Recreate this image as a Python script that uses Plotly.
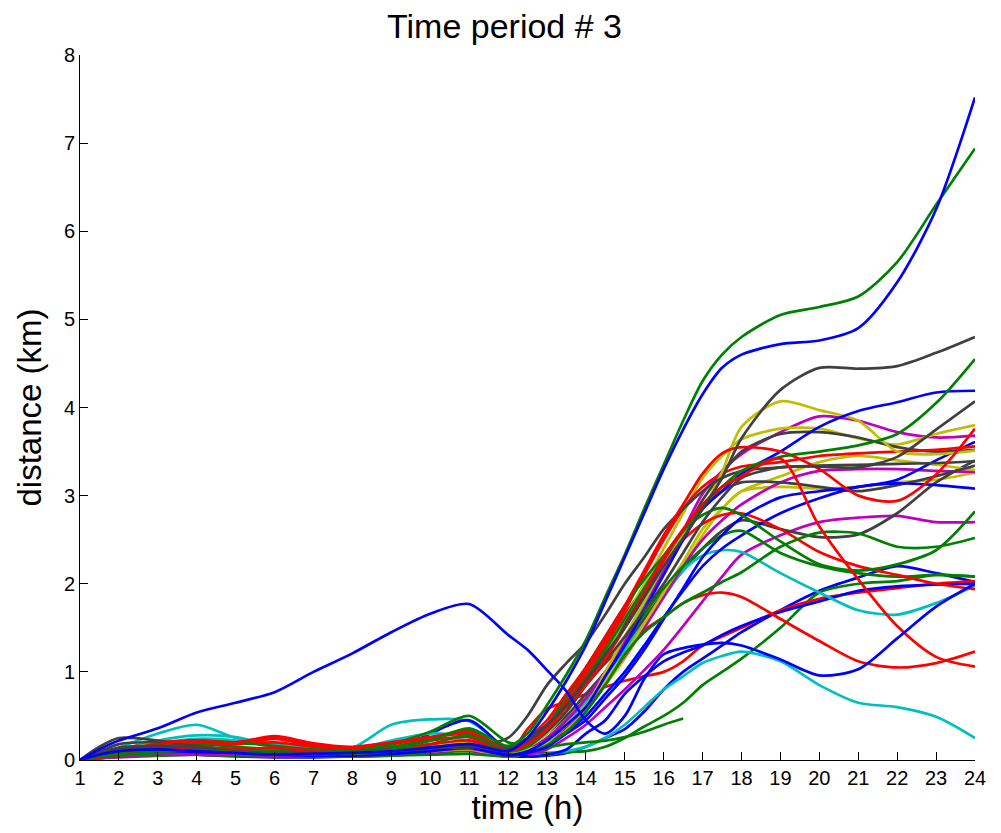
import plotly.graph_objects as go

# time grid (hours)
hours = [1, 1.5, 2, 3, 4, 5, 6, 7, 8, 9, 10, 11, 12, 12.5, 13, 13.5, 14, 14.5, 15, 15.5,
         16, 16.5, 17, 17.5, 18, 19, 20, 21, 22, 23, 24]

x_ticks = list(range(1, 25))
y_ticks = list(range(0, 9))

# distance series (km), one list per track
blue_top = [0, .06, .10, .12, .10, .08, .06, .07, .08, .10, .14, .18, .10, .25, .55, .90, 1.30, 1.80, 2.30, 2.80, 3.30, 3.75, 4.15, 4.45, 4.60, 4.72, 4.76, 4.90, 5.42, 6.25, 7.52]
green_top = [0, .04, .06, .09, .11, .09, .07, .06, .08, .12, .22, .36, .16, .30, .62, .97, 1.36, 1.85, 2.33, 2.85, 3.35, 3.85, 4.30, 4.60, 4.80, 5.05, 5.14, 5.26, 5.65, 6.30, 6.94]
blue_early = [0, .12, .22, .36, .54, .65, .77, 1.00, 1.21, 1.45, 1.66, 1.77, 1.42, 1.25, 1.02, .78, .45, .30, .50, .92, 1.20, 1.27, 1.31, 1.33, 1.30, 1.14, .96, 1.03, 1.38, 1.74, 2.00]
cyan_low = [0, .06, .14, .30, .40, .25, .18, .14, .14, .40, .46, .44, .12, .05, .06, .10, .15, .25, .40, .60, .80, .95, 1.10, 1.18, 1.23, 1.12, .85, .65, .60, .49, .25]
cyan_dip = [0, .04, .10, .22, .28, .26, .16, .12, .12, .22, .30, .26, .08, .10, .20, .40, .65, .95, 1.25, 1.55, 1.85, 2.15, 2.32, 2.38, 2.36, 2.12, 1.90, 1.70, 1.65, 1.78, 1.98]
cyan_mid = [0, .04, .08, .18, .24, .22, .15, .10, .10, .18, .25, .22, .08, .12, .25, .45, .70, 1.00, 1.35, 1.75, 2.15, 2.55, 2.85, 3.10, 3.22, None, None, None, None, None, None]
red_peak = [0, .05, .12, .20, .22, .20, .26, .18, .14, .20, .26, .30, .12, .15, .35, .60, .85, 1.10, 1.30, 1.48, 1.62, 1.78, 1.87, 1.90, 1.85, 1.60, 1.35, 1.12, 1.05, 1.10, 1.23]
red_steep = [0, .03, .06, .10, .14, .12, .14, .10, .08, .12, .18, .22, .10, .18, .35, .60, .85, 1.15, 1.50, 1.90, 2.30, 2.62, 2.90, 3.10, 3.22, 3.42, 2.65, 2.05, 1.52, 1.17, 1.06]
red_fall = [0, .05, .10, .16, .20, .18, .20, .15, .11, .15, .22, .26, .09, .15, .35, .65, .95, 1.30, 1.65, 1.95, 2.25, 2.50, 2.68, 2.78, 2.80, 2.62, 2.36, 2.20, 2.10, 2.00, 1.94]
red_slow = [0, .02, .04, .07, .09, .08, .10, .07, .06, .09, .14, .18, .07, .35, .58, .66, .75, .83, .90, .95, 1.00, 1.12, 1.30, 1.40, 1.50, 1.70, 1.83, 1.90, 1.95, 2.00, 2.03]
red_dip = [0, .05, .10, .18, .22, .20, .27, .19, .15, .20, .26, .32, .12, .25, .45, .75, 1.05, 1.40, 1.75, 2.15, 2.55, 2.90, 3.25, 3.48, 3.55, 3.50, 3.30, 3.00, 2.94, 3.24, 3.76]
red_flat = [0, .04, .09, .16, .20, .18, .24, .16, .12, .18, .25, .30, .10, .18, .40, .70, 1.00, 1.35, 1.70, 2.10, 2.50, 2.85, 3.10, 3.25, 3.33, 3.38, 3.45, 3.48, 3.50, 3.52, 3.56]
green_a = [0, .02, .04, .06, .06, .05, .05, .04, .04, .05, .08, .10, .04, .06, .08, .09, .10, .15, .25, .38, .50, .65, .85, 1.00, 1.15, 1.50, 1.90, 2.00, 2.03, 2.10, 2.08]
green_b = [0, .04, .08, .14, .18, .15, .12, .10, .09, .14, .24, .34, .10, .12, .18, .32, .55, .85, 1.20, 1.45, 1.62, 1.78, 1.90, 2.02, 2.13, 2.42, 2.58, 2.57, 2.42, 2.42, 2.52]
green_c = [0, .05, .10, .18, .22, .20, .16, .12, .10, .18, .32, .50, .20, .18, .38, .72, 1.05, 1.40, 1.75, 2.05, 2.32, 2.60, 2.78, 2.86, 2.78, 2.48, 2.22, 2.15, 2.22, 2.38, 2.82]
green_short = [0, .02, .04, .05, .06, .05, .04, .04, .04, .05, .06, .07, .04, .08, .14, .18, .20, .22, .26, .32, .40, .47, None, None, None, None, None, None, None, None, None]
green_hi = [0, .03, .07, .12, .14, .12, .10, .08, .07, .10, .18, .28, .10, .15, .35, .62, .92, 1.25, 1.60, 1.95, 2.30, 2.60, 2.88, 3.10, 3.28, 3.44, 3.50, 3.57, 3.70, 4.05, 4.55]
green_e = [0, .03, .05, .08, .10, .09, .07, .06, .06, .08, .14, .22, .06, .10, .25, .45, .70, 1.00, 1.32, 1.65, 1.95, 2.20, 2.40, 2.55, 2.60, 2.35, 2.20, 2.12, 2.08, 2.10, 2.08]
blue_low = [0, .03, .06, .08, .06, .04, .03, .03, .04, .06, .10, .12, .04, .04, .05, .08, .15, .25, .35, .55, .80, 1.00, 1.15, 1.30, 1.45, 1.70, 1.92, 2.07, 2.20, 2.12, 2.02]
blue_low2 = [0, .05, .10, .12, .10, .08, .06, .05, .06, .08, .30, .45, .10, .04, .06, .12, .30, .45, .75, .95, 1.12, 1.22, 1.30, 1.42, 1.52, 1.68, 1.80, 1.92, 1.97, 1.99, 2.00]
blue_hi = [0, .04, .08, .12, .12, .10, .08, .06, .06, .08, .12, .16, .06, .10, .22, .40, .60, .95, 1.30, 1.70, 2.10, 2.50, 2.85, 3.05, 3.25, 3.50, 3.78, 3.96, 4.06, 4.17, 4.19]
blue_mid = [0, .04, .07, .10, .09, .08, .06, .05, .05, .07, .10, .14, .05, .08, .15, .30, .45, .70, .95, 1.25, 1.60, 1.95, 2.30, 2.55, 2.75, 2.98, 3.05, 3.10, 3.18, 3.40, 3.61]
blue_flat = [0, .05, .09, .14, .14, .12, .09, .07, .07, .09, .13, .17, .06, .08, .18, .32, .50, .75, 1.00, 1.30, 1.62, 1.92, 2.20, 2.40, 2.55, 2.80, 2.97, 3.10, 3.14, 3.12, 3.08]
gray_top = [0, .08, .14, .16, .14, .10, .08, .08, .08, .10, .14, .18, .12, .25, .40, .62, .90, 1.20, 1.50, 1.85, 2.20, 2.52, 2.85, 3.20, 3.65, 4.20, 4.45, 4.44, 4.47, 4.62, 4.80]
gray_rise = [0, .07, .12, .14, .12, .10, .08, .08, .09, .10, .13, .16, .10, .20, .38, .60, .85, 1.12, 1.40, 1.70, 2.00, 2.35, 2.70, 2.98, 3.20, 3.32, 3.33, 3.32, 3.44, 3.75, 4.07]
gray_hump = [0, .06, .10, .12, .11, .09, .08, .07, .07, .09, .12, .15, .08, .15, .32, .55, .85, 1.18, 1.50, 1.85, 2.20, 2.55, 2.95, 3.25, 3.50, 3.70, 3.72, 3.66, 3.55, 3.50, 3.52]
gray_late = [0, .06, .11, .13, .12, .10, .08, .07, .08, .09, .12, .15, .09, .15, .30, .50, .75, 1.00, 1.30, 1.60, 1.90, 2.15, 2.40, 2.60, 2.72, 2.62, 2.53, 2.56, 2.80, 3.15, 3.40]
gray_flat = [0, .15, .25, .22, .15, .12, .10, .09, .10, .12, .16, .20, .14, .22, .40, .65, .95, 1.25, 1.55, 1.90, 2.25, 2.55, 2.85, 3.05, 3.15, 3.15, 3.10, 3.05, 3.12, 3.22, 3.34]
gray_early = [0, .09, .18, .20, .16, .12, .10, .10, .10, .12, .15, .14, .25, .50, .85, 1.10, 1.33, 1.65, 2.00, 2.30, 2.62, 2.85, 3.05, 3.20, 3.28, 3.32, 3.34, 3.35, 3.36, 3.37, 3.39]
yellow_peak = [0, .05, .10, .16, .15, .12, .10, .08, .07, .10, .15, .20, .08, .12, .20, .40, .60, 1.00, 1.40, 1.80, 2.20, 2.55, 2.85, 3.27, 3.78, 4.07, 3.97, 3.85, 3.50, 3.47, 3.51]
yellow_hi = [0, .04, .08, .12, .14, .12, .10, .08, .07, .09, .14, .18, .06, .15, .30, .55, .85, 1.20, 1.60, 2.00, 2.40, 2.80, 3.20, 3.45, 3.64, 3.76, 3.76, 3.65, 3.58, 3.70, 3.80]
yellow_mid = [0, .05, .09, .20, .14, .12, .10, .08, .06, .08, .12, .15, .05, .10, .22, .40, .62, .90, 1.20, 1.55, 1.90, 2.25, 2.62, 2.85, 3.05, 3.22, 3.38, 3.45, 3.40, 3.35, 3.29]
yellow_low = [0, .03, .06, .10, .10, .08, .06, .05, .05, .07, .10, .12, .04, .08, .18, .35, .55, .85, 1.15, 1.50, 1.85, 2.20, 2.55, 2.85, 3.05, 3.10, 3.08, 3.10, 3.15, 3.18, 3.26]
magenta_hi = [0, .03, .06, .10, .12, .10, .08, .08, .07, .09, .14, .18, .08, .12, .25, .45, .70, 1.00, 1.35, 1.72, 2.15, 2.60, 3.02, 3.28, 3.47, 3.72, 3.90, 3.85, 3.72, 3.66, 3.68]
magenta_mid = [0, .02, .04, .06, .07, .06, .05, .05, .05, .07, .10, .13, .05, .10, .20, .38, .60, .88, 1.18, 1.50, 1.85, 2.20, 2.50, 2.72, 2.90, 3.15, 3.28, 3.30, 3.30, 3.28, 3.27]
magenta_low = [0, .02, .03, .05, .06, .05, .04, .04, .04, .06, .09, .11, .04, .06, .12, .25, .40, .60, .80, 1.02, 1.25, 1.52, 1.80, 2.08, 2.33, 2.55, 2.70, 2.75, 2.77, 2.70, 2.70]

BLUE, GREEN, RED, CYAN, MAGENTA, YELLOW, GRAY = (
    "#0000FF", "#008000", "#FF0000", "#00BFBF", "#BF00BF", "#BFBF00", "#404040")

tracks = [
    (cyan_mid, CYAN), (blue_low, BLUE), (green_a, GREEN), (red_slow, RED), (cyan_low, CYAN),
    (magenta_low, MAGENTA), (yellow_low, YELLOW), (gray_late, GRAY), (blue_low2, BLUE),
    (green_short, GREEN), (red_peak, RED), (cyan_dip, CYAN), (magenta_mid, MAGENTA),
    (yellow_mid, YELLOW), (gray_flat, GRAY), (blue_flat, BLUE), (green_e, GREEN),
    (red_fall, RED), (magenta_hi, MAGENTA), (yellow_hi, YELLOW), (gray_hump, GRAY),
    (blue_mid, BLUE), (green_b, GREEN), (red_flat, RED), (yellow_peak, YELLOW),
    (gray_early, GRAY), (blue_hi, BLUE), (green_c, GREEN), (red_dip, RED),
    (gray_rise, GRAY), (green_hi, GREEN), (red_steep, RED), (gray_top, GRAY),
    (blue_early, BLUE), (green_top, GREEN), (blue_top, BLUE),
]

fig = go.Figure()
for vals, col in tracks:
    fig.add_trace(go.Scatter(
        x=hours, y=vals, mode="lines",
        line=dict(color=col, width=2.7, shape="spline", smoothing=0.8),
        connectgaps=False, showlegend=False, hoverinfo="skip"))

font = "Liberation Sans, Arial, Helvetica, sans-serif"
# page body has an 8px default margin, so the figure is sized to fit inside it
fig.update_layout(
    width=993, height=825,
    paper_bgcolor="white", plot_bgcolor="white",
    margin=dict(l=72, r=26, t=47, b=73),
    font=dict(family=font, color="black", size=20),
    title=dict(text="Time period # 3", x=0.5, xanchor="center",
               y=0.978, yanchor="middle", font=dict(size=34, family=font)),
    xaxis=dict(range=[1, 24], tickvals=x_ticks, ticks="inside", ticklen=8,
               tickcolor="black", showline=True, linecolor="black", linewidth=1,
               showgrid=False, zeroline=False, tickfont=dict(size=20), automargin=False,
               title=dict(text="time (h)", font=dict(size=33), standoff=5)),
    yaxis=dict(range=[0, 8], tickvals=y_ticks, ticks="inside", ticklen=8,
               tickcolor="black", showline=True, linecolor="black", linewidth=1,
               showgrid=False, zeroline=False, tickfont=dict(size=20), automargin=False,
               title=dict(text="distance (km)", font=dict(size=33), standoff=12)),
)

fig.write_html("out.html")
